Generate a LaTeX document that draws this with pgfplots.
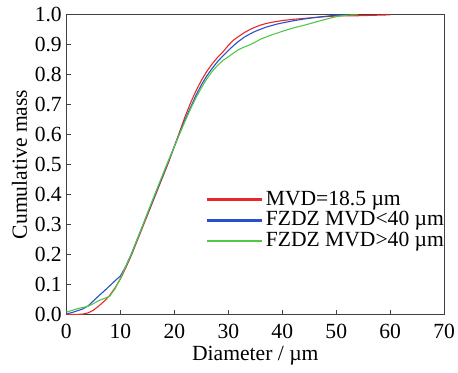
\documentclass[border=0pt]{standalone}
\usepackage{pgfplots}
\pgfplotsset{compat=1.18}
\usepackage{fontspec}
\setmainfont{Liberation Serif}
\definecolor{cred}{RGB}{232,40,40}
\definecolor{cblue}{RGB}{40,80,200}
\definecolor{cgreen}{RGB}{80,200,70}
\begin{document}
\fontsize{10.8}{13}\selectfont
\begin{tikzpicture}
\begin{axis}[
  width=189pt, height=150pt, scale only axis,
  xmin=0, xmax=70, ymin=0, ymax=1,
  xtick={0,10,...,70},
  ytick={0,0.1,...,1.0},
  yticklabel style={/pgf/number format/fixed,/pgf/number format/fixed zerofill,/pgf/number format/precision=1},
  yticklabel style={xshift=1.5pt},
  /pgf/number format/assume math mode=true,
  tick align=inside,
  xtick pos=bottom, ytick pos=left,
  major tick length=2.2pt,
  axis line style={line width=0.7pt, black!75},
  tick style={line width=0.6pt, black!75},
  xticklabel style={yshift=-1pt, inner xsep=1.5pt},
  xlabel={Diameter / µm},
  ylabel={Cumulative mass},
  xlabel style={yshift=3.5pt},
  ylabel style={yshift=-6pt, inner ysep=6pt},
  legend style={draw=none, fill=none, at={(rel axis cs:1.011,0.44)}, anchor=north east,
    inner xsep=0pt, row sep=-2.5pt},
  legend cell align=left,
  legend image code/.code={\fill[#1] (0pt,-0.35pt) rectangle (27pt,0.35pt);},
]
\addplot[cred, line width=0.55pt] coordinates {
(0,0)(2,0)(3,0.001)(4,0.005)(5,0.014)(6,0.028)(7,0.044)(8,0.063)(9,0.088)(10,0.118)
(11,0.155)(12,0.195)(13,0.24)(14,0.285)(15,0.33)(16,0.375)(17,0.42)(18,0.465)(19,0.51)(20,0.56)
(21,0.61)(22,0.66)(23,0.705)(24,0.745)(25,0.78)(26,0.81)(27,0.835)(28,0.857)(29,0.875)(30,0.897)
(31,0.915)(32,0.928)(33,0.94)(34,0.95)(35,0.958)(36,0.965)(37,0.97)(38,0.974)(39,0.977)(40,0.98)
(42,0.984)(44,0.987)(46,0.99)(48,0.993)(50,0.995)(52,0.996)(54,0.996)(56,0.997)(58,0.998)(60,0.999)
};
\addlegendentry{MVD=18.5 µm}
\addplot[cblue, line width=0.55pt] coordinates {
(0,0.002)(1,0.006)(2,0.012)(3,0.018)(4,0.028)(5,0.045)(6,0.062)(7,0.078)(8,0.095)(9,0.112)(10,0.128)
(11,0.16)(12,0.2)(13,0.245)(14,0.29)(15,0.335)(16,0.38)(17,0.425)(18,0.47)(19,0.515)(20,0.56)
(21,0.605)(22,0.65)(23,0.69)(24,0.73)(25,0.765)(26,0.795)(27,0.82)(28,0.843)(29,0.862)(30,0.88)
(31,0.897)(32,0.912)(33,0.925)(34,0.935)(35,0.944)(36,0.951)(37,0.958)(38,0.963)(39,0.968)(40,0.972)
(42,0.979)(44,0.985)(46,0.99)(48,0.994)(50,0.998)(52,0.999)
};
\addlegendentry{FZDZ MVD<40 µm}
\addplot[cgreen, line width=0.55pt] coordinates {
(0,0.008)(1,0.013)(2,0.019)(3,0.023)(4,0.027)(5,0.036)(6,0.046)(7,0.053)(8,0.06)(9,0.085)(10,0.12)
(11,0.16)(12,0.2)(13,0.245)(14,0.29)(15,0.337)(16,0.383)(17,0.428)(18,0.473)(19,0.517)(20,0.56)
(21,0.603)(22,0.645)(23,0.685)(24,0.722)(25,0.755)(26,0.785)(27,0.81)(28,0.83)(29,0.847)(30,0.859)
(31,0.872)(32,0.884)(33,0.892)(34,0.899)(35,0.908)(36,0.918)(37,0.925)(38,0.932)(39,0.938)(40,0.944)
(42,0.955)(44,0.964)(46,0.974)(48,0.984)(50,0.993)(52,0.998)(54,0.999)
};
\addlegendentry{FZDZ MVD>40 µm}
\end{axis}
\end{tikzpicture}
\end{document}
